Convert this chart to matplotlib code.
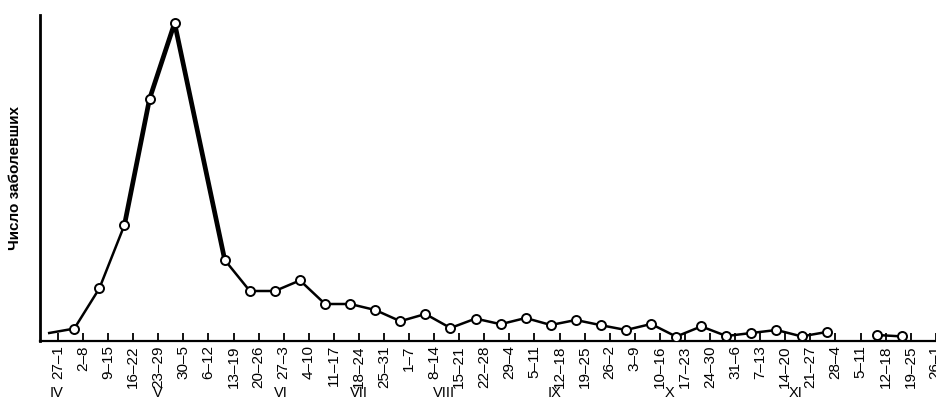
import numpy as np
import matplotlib
matplotlib.use("Agg")
import matplotlib.pyplot as plt

# ---- data (y scale is arbitrary, no y ticks) ----
weeks = ["27–1", "2–8", "9–15", "16–22", "23–29", "30–5", "6–12", "13–19",
         "20–26", "27–3", "4–10", "11–17", "18–24", "25–31", "1–7", "8–14",
         "15–21", "22–28", "29–4", "5–11", "12–18", "19–25", "26–2", "3–9",
         "10–16", "17–23", "24–30", "31–6", "7–13", "14–20", "21–27", "28–4",
         "5–11", "12–18", "19–25", "26–1"]
NAN = float("nan")
# None -> week without a marked point (line passes on); NAN -> gap in the line
cases = [4, 6.2, 26.3, 58, 121, 159, None, 40.5,
         25, 25, 30.3, 18.5, 18.5, 15.5, 9.9, 13.5,
         6.5, 11.2, 8.4, 11.5, 8, 10.5, 7.9, 5.5,
         8.5, 2.2, 7.3, 2.5, 4, 5.5, 2.3, 4.5,
         NAN, 3, 2.3, NAN]
months = ["IV", "V", "VI", "VII", "VIII", "IX", "X", "XI"]
month_at = [-0.05, 4.0, 8.9, 12.0, 15.4, 19.8, 24.4, 29.4]   # week index under which the month is written
ylabel = "Число заболевших"

FONT = ["Liberation Sans", "DejaVu Sans"]

fig = plt.figure(figsize=(9.37, 4.01), dpi=100)
ax = fig.add_axes([40 / 937, 60 / 401, 897 / 937, 326 / 401])

idx = [i for i, v in enumerate(cases) if v is not None]
x = np.array(idx, dtype=float) - 0.35
y = np.array([cases[i] for i in idx], dtype=float)

# base line
ax.plot(x, y, color="black", lw=1.8, solid_joinstyle="round", zorder=2)
# thicker stroke around the epidemic peak (as drawn in the original)
peak_sel = [k for k, i in enumerate(idx) if 3 <= i <= 7]
ax.plot(x[peak_sel], y[peak_sel], color="black", lw=3.4,
        solid_joinstyle="round", solid_capstyle="round", zorder=2)
# open circle markers (first point drawn without marker)
ax.plot(x[1:], y[1:], linestyle="none", marker="o", ms=6.5,
        mfc="white", mec="black", mew=1.4, zorder=3)

ax.set_xlim(-0.717, 35.05)
ax.set_ylim(0, 163)

for s in ["top", "right"]:
    ax.spines[s].set_visible(False)
ax.spines["left"].set_linewidth(2.0)
ax.spines["bottom"].set_linewidth(1.6)

ax.set_yticks([])
ax.set_xticks(np.arange(len(weeks)))
ax.set_xticklabels(weeks, rotation=90, family=FONT, fontsize=11)
ax.tick_params(axis="x", direction="in", length=6, width=1.3, pad=3)

for m, p in zip(months, month_at):
    ax.text(p, -0.16, m, transform=ax.get_xaxis_transform(), ha="center",
            va="center", family=FONT, fontsize=10.5, clip_on=False)

fig.text(15 / 937, 1 - 178 / 401, ylabel, rotation=90, ha="center", va="center",
         family=FONT, fontsize=11, fontweight="bold")

fig.savefig("out.png", dpi=100, facecolor="white")
